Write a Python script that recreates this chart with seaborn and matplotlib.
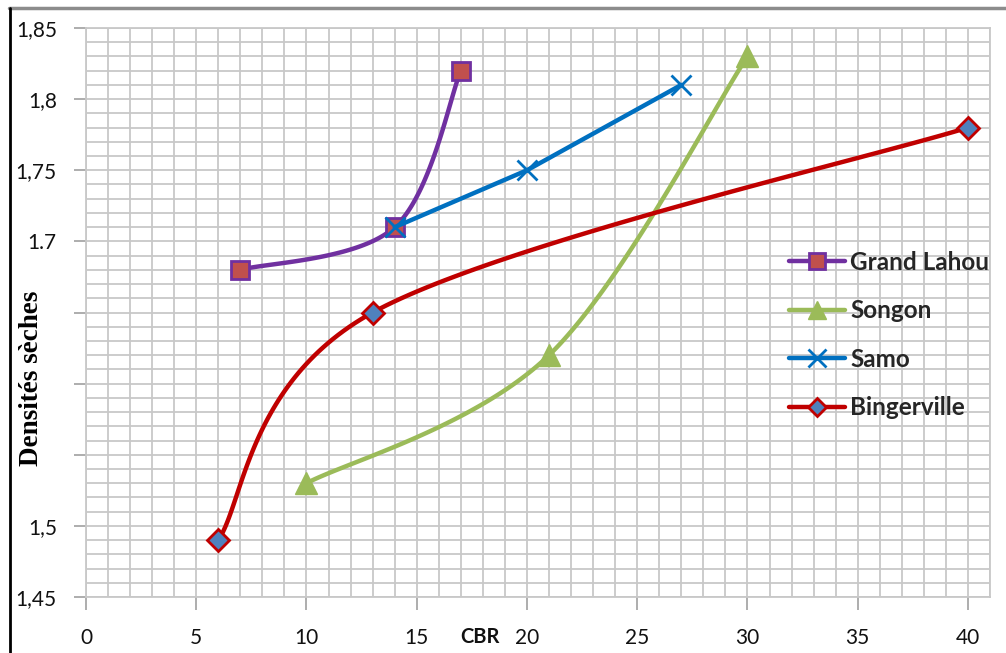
import numpy as np
import pandas as pd
import matplotlib
matplotlib.use("Agg")
import matplotlib.pyplot as plt
from matplotlib.lines import Line2D
import seaborn as sns

# Sample series: CBR index vs dry density
series_names = ["Grand Lahou", "Songon", "Samo", "Bingerville"]
grand_lahou_cbr = [7, 14, 17]
grand_lahou_dens = [1.68, 1.71, 1.82]
songon_cbr = [10, 21, 30]
songon_dens = [1.53, 1.62, 1.83]
samo_cbr = [14, 20, 27]
samo_dens = [1.71, 1.75, 1.81]
bingerville_cbr = [6, 13, 40]
bingerville_dens = [1.49, 1.65, 1.78]

y_ticks = [1.45, 1.50, 1.55, 1.60, 1.65, 1.70, 1.75, 1.80, 1.85]
y_tick_labels = ["1,45", "1,5", "", "", "", "1.7", "1,75", "1,8", "1,85"]
x_ticks = [0, 5, 10, 15, 20, 25, 30, 35, 40]

styles = {
    "Grand Lahou": dict(color="#7030A0", marker="s", mfc="#C0504D", mec="#7030A0", ms=13, mew=2, smooth=True),
    "Songon": dict(color="#9BBB59", marker="^", mfc="#9BBB59", mec="#9BBB59", ms=16, mew=1, smooth=True),
    "Samo": dict(color="#0070C0", marker="x", mfc="#0070C0", mec="#0070C0", ms=15, mew=2, smooth=False),
    "Bingerville": dict(color="#C00000", marker="D", mfc="#4F81BD", mec="#C00000", ms=11, mew=2, smooth=True),
}


def smooth_curve(xs, ys, n=60):
    """Catmull-Rom style Bezier smoothing through the points."""
    p = np.column_stack([xs, ys]).astype(float)
    out = []
    for i in range(len(p) - 1):
        p0 = p[i - 1] if i > 0 else p[i]
        p1, p2 = p[i], p[i + 1]
        p3 = p[i + 2] if i + 2 < len(p) else p[i + 1]
        c1 = p1 + (p2 - p0) / 6.0
        c2 = p2 - (p3 - p1) / 6.0
        t = np.linspace(0, 1, n)[:, None]
        seg = ((1 - t) ** 3) * p1 + 3 * ((1 - t) ** 2) * t * c1 + 3 * (1 - t) * t ** 2 * c2 + t ** 3 * p2
        out.append(seg if i == 0 else seg[1:])
    seg = np.vstack(out)
    return seg[:, 0], seg[:, 1]


data = {
    "Grand Lahou": (grand_lahou_cbr, grand_lahou_dens),
    "Songon": (songon_cbr, songon_dens),
    "Samo": (samo_cbr, samo_dens),
    "Bingerville": (bingerville_cbr, bingerville_dens),
}

sns.set_theme(style="white")
plt.rcParams["font.family"] = ["Lato", "DejaVu Sans"]

fig = plt.figure(figsize=(10.06, 6.53), dpi=100)
ax = fig.add_axes([86 / 1006, 1 - 597 / 653, (990 - 86) / 1006, (597 - 28) / 653])

for z, name in enumerate(series_names):
    xs, ys = data[name]
    st = styles[name]
    if st["smooth"]:
        cx, cy = smooth_curve(xs, ys)
    else:
        cx, cy = np.array(xs, float), np.array(ys, float)
    curve = pd.DataFrame({"CBR": cx, "dens": cy})
    sns.lineplot(data=curve, x="CBR", y="dens", sort=False, ax=ax, color=st["color"],
                 linewidth=3.2, zorder=3 + 2 * z, estimator=None)
    pts = pd.DataFrame({"CBR": xs, "dens": ys})
    ax.plot(pts["CBR"], pts["dens"], linestyle="none", marker=st["marker"], ms=st["ms"],
            mfc=st["mfc"], mec=st["mec"], mew=st["mew"], zorder=4 + 2 * z)

ax.set_xlim(0, 41)
ax.set_ylim(1.45, 1.85)
ax.set_xticks(x_ticks)
ax.set_xticks(np.arange(0, 42, 1), minor=True)
ax.set_yticks(y_ticks)
ax.set_yticklabels(y_tick_labels)
ax.set_yticks(np.round(np.arange(1.45, 1.851, 0.01), 2), minor=True)
ax.grid(True, which="both", color="#C8C8C8", linewidth=1.3)
ax.set_axisbelow(True)
for s in ax.spines.values():
    s.set_color("#C8C8C8")
    s.set_linewidth(1.3)
ax.tick_params(axis="both", which="major", direction="out", length=9, width=1.2, color="#A0A0A0",
               labelsize=15, labelcolor="#111111", left=True, bottom=True)
ax.tick_params(axis="x", which="major", pad=13)
ax.tick_params(axis="y", which="major", pad=12)
ax.tick_params(which="minor", length=0)
ax.set_xlabel("")
ax.set_ylabel("")

fig.text(480 / 1006, 1 - 637 / 653, "CBR", ha="center", va="center", fontsize=14.5,
         fontweight="bold", color="#111111")
fig.text(32 / 1006, 1 - 378 / 653, "Densités sèches", ha="center", va="center", rotation=90,
         fontsize=19.5, fontweight="bold", family=["Liberation Serif", "DejaVu Serif"], color="#000000")

handles = []
for name in series_names:
    st = styles[name]
    handles.append(Line2D([0], [0], color=st["color"], linewidth=3.2, marker=st["marker"],
                          ms=st["ms"] * 0.85, mfc=st["mfc"], mec=st["mec"], mew=st["mew"]))
leg = ax.legend(handles, series_names, loc="upper left", bbox_to_anchor=(0.754, 0.647),
                frameon=False, handlelength=2.3, handletextpad=0.2, labelspacing=1.05,
                prop=dict(family=["Lato", "DejaVu Sans"], weight="bold", size=17.5))
leg.set_zorder(20)

# outer frame strokes
fig.add_artist(Line2D([9 / 1006, 1.0], [1 - 8 / 653, 1 - 8 / 653], color="#8C8C8C", linewidth=2.5,
                      transform=fig.transFigure))
fig.add_artist(Line2D([9.5 / 1006, 9.5 / 1006], [0, 1 - 8 / 653], color="#000000", linewidth=2,
                      transform=fig.transFigure))

fig.savefig("out.png", dpi=100)
